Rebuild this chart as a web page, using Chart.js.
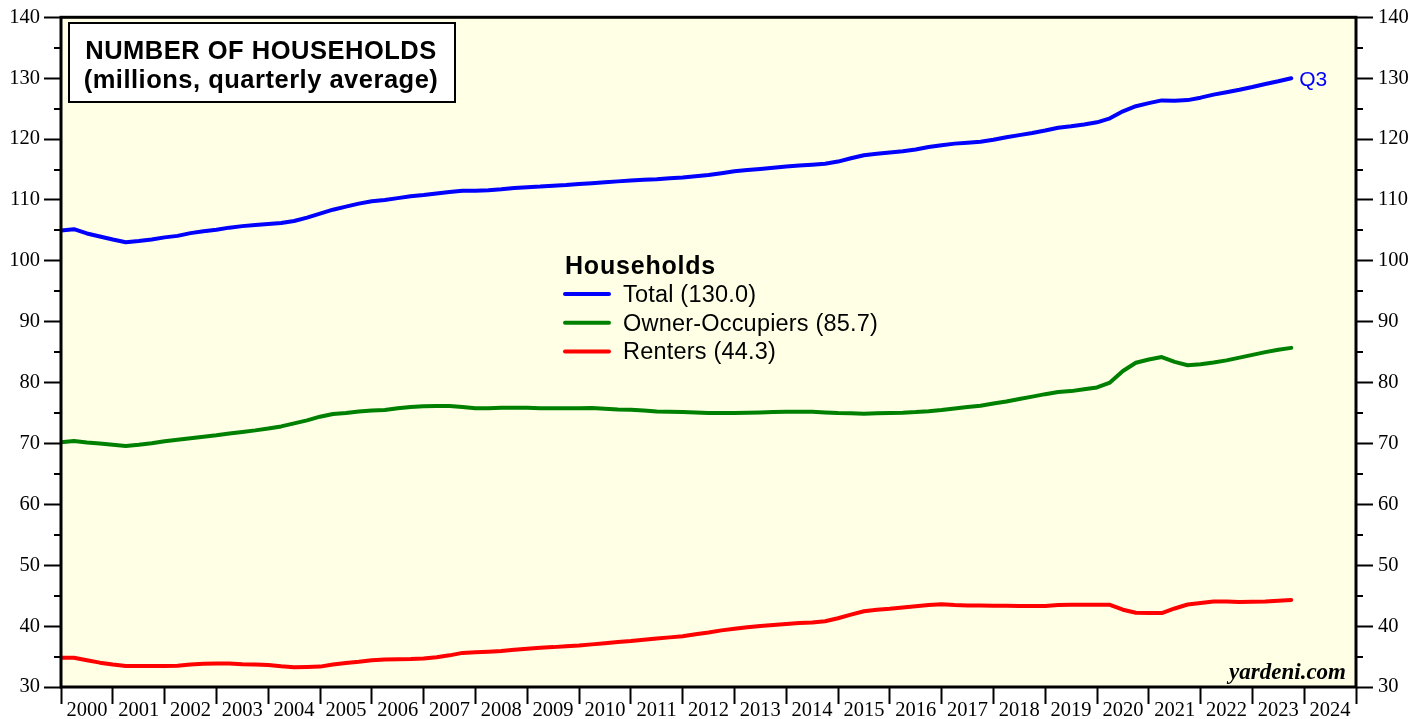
<!DOCTYPE html>
<html>
<head>
<meta charset="utf-8">
<script src="https://cdn.jsdelivr.net/npm/chart.js@4.4.1/dist/chart.umd.min.js"></script>
<style>
html,body{margin:0;padding:0;background:#fff;}
canvas{display:block;}
</style>
</head>
<body>
<canvas id="c" width="1427" height="719"></canvas>
<script>
// Quarterly data, 2000 Q1 .. 2023 Q3 (millions)
const startYear = 2000;
const quarterStep = 0.25;

const total = [
  105.0, 105.2, 104.5, 104.0,
  103.5, 103.05, 103.25, 103.5,
  103.85, 104.1, 104.55, 104.85,
  105.1, 105.45, 105.7, 105.9,
  106.05, 106.2, 106.55, 107.1,
  107.75, 108.4, 108.9, 109.4,
  109.8, 110.0, 110.3, 110.6,
  110.8, 111.05, 111.3, 111.5,
  111.5, 111.6, 111.75, 111.95,
  112.1, 112.2, 112.35, 112.45,
  112.6, 112.75, 112.9, 113.05,
  113.2, 113.3, 113.4, 113.55,
  113.7, 113.9, 114.1, 114.4,
  114.7, 114.9, 115.1, 115.3,
  115.5, 115.65, 115.8, 115.95,
  116.3, 116.85, 117.35, 117.6,
  117.8, 118.0, 118.3, 118.7,
  119.0, 119.25, 119.4, 119.55,
  119.9, 120.3, 120.65, 121.0,
  121.4, 121.85, 122.1, 122.4,
  122.75, 123.4, 124.55, 125.4,
  125.9, 126.35, 126.3, 126.4,
  126.8, 127.3, 127.7, 128.1,
  128.55, 129.05, 129.5, 130.0
];

const owners = [
  70.2, 70.4, 70.15, 70.0,
  69.8, 69.6, 69.8, 70.05,
  70.35, 70.6, 70.85, 71.1,
  71.35, 71.65, 71.9, 72.15,
  72.45, 72.8, 73.3, 73.8,
  74.4, 74.85, 75.0, 75.25,
  75.4, 75.5, 75.8, 76.0,
  76.1, 76.15, 76.15, 76.0,
  75.8, 75.8, 75.85, 75.88,
  75.85, 75.8, 75.8, 75.8,
  75.8, 75.82, 75.7, 75.6,
  75.55, 75.4, 75.25, 75.2,
  75.15, 75.08, 75.02, 75.0,
  75.0, 75.05, 75.1, 75.15,
  75.2, 75.22, 75.2, 75.1,
  75.0, 74.95, 74.9, 74.95,
  75.0, 75.05, 75.15, 75.3,
  75.5, 75.75, 76.0, 76.2,
  76.55, 76.9, 77.3, 77.7,
  78.1, 78.45, 78.6, 78.9,
  79.2, 80.0, 81.9, 83.25,
  83.8, 84.2, 83.4, 82.85,
  83.0, 83.3, 83.65, 84.1,
  84.55, 85.0, 85.4, 85.7
];

const renters = [
  34.8, 34.8, 34.4, 34.0,
  33.7, 33.45, 33.45, 33.45,
  33.45, 33.5, 33.7, 33.8,
  33.85, 33.85, 33.75, 33.7,
  33.6, 33.4, 33.25, 33.3,
  33.35, 33.7, 33.95, 34.15,
  34.4, 34.5, 34.55, 34.6,
  34.7, 34.9, 35.2, 35.6,
  35.7, 35.8, 35.9, 36.1,
  36.3, 36.45, 36.55, 36.7,
  36.8, 37.0, 37.2, 37.4,
  37.55, 37.75, 37.95, 38.15,
  38.35, 38.65, 38.95, 39.3,
  39.55, 39.8, 40.03, 40.2,
  40.35, 40.5, 40.6, 40.8,
  41.3, 41.9, 42.45, 42.7,
  42.85, 43.05, 43.25, 43.45,
  43.58, 43.45, 43.4, 43.38,
  43.35, 43.33, 43.3, 43.3,
  43.3, 43.45, 43.52, 43.53,
  43.5, 43.5, 42.7, 42.2,
  42.15, 42.15, 42.9, 43.55,
  43.8, 44.05, 44.05, 43.95,
  44.0, 44.03, 44.15, 44.3
];

const yTicks = [30, 40, 50, 60, 70, 80, 90, 100, 110, 120, 130, 140];
const yMinorTicks = [35, 45, 55, 65, 75, 85, 95, 105, 115, 125, 135];
const yearTicks = [2000, 2001, 2002, 2003, 2004, 2005, 2006, 2007, 2008, 2009, 2010, 2011, 2012,
  2013, 2014, 2015, 2016, 2017, 2018, 2019, 2020, 2021, 2022, 2023, 2024, 2025];

const seriesNames = ['Total', 'Owner-Occupiers', 'Renters'];
const seriesColors = ['#0000ff', '#008000', '#ff0000'];
const titleLines = ['NUMBER OF HOUSEHOLDS', '(millions, quarterly average)'];
const legendTitle = 'Households';
const lastLabel = 'Q3';
const sourceText = 'yardeni.com';

function toPoints(arr) {
  return arr.map((v, i) => ({ x: startYear + i * quarterStep, y: v }));
}

const seriesData = [total, owners, renters];

const datasets = seriesData.map((arr, i) => ({
  label: seriesNames[i],
  data: toPoints(arr),
  borderColor: seriesColors[i],
  backgroundColor: seriesColors[i],
  borderWidth: 4,
  pointRadius: 0,
  tension: 0,
  borderJoinStyle: 'round',
  borderCapStyle: 'round',
  yAxisID: 'y'
}));

const serif = "'Liberation Serif', 'Times New Roman', serif";
const sans = "'Liberation Sans', Arial, sans-serif";

const deco = {
  id: 'deco',
  beforeDraw(chart) {
    const { ctx, chartArea: a } = chart;
    ctx.save();
    ctx.fillStyle = '#ffffff';
    ctx.fillRect(0, 0, chart.width, chart.height);
    ctx.fillStyle = 'rgb(255,255,229)';
    ctx.fillRect(a.left, a.top, a.right - a.left, a.bottom - a.top);
    ctx.restore();
  },
  afterDraw(chart) {
    const { ctx, chartArea: a } = chart;
    const ys = chart.scales.y;
    const xs = chart.scales.x;
    ctx.save();
    // frame
    ctx.strokeStyle = '#000';
    ctx.lineWidth = 3;
    ctx.strokeRect(a.left, a.top, a.right - a.left, a.bottom - a.top);
    // minor y ticks
    ctx.lineWidth = 2;
    ctx.beginPath();
    yMinorTicks.forEach(v => {
      const py = Math.round(ys.getPixelForValue(v));
      ctx.moveTo(a.left - 7, py); ctx.lineTo(a.left, py);
      ctx.moveTo(a.right, py); ctx.lineTo(a.right + 7, py);
    });
    ctx.stroke();

    // title box
    ctx.fillStyle = '#fff';
    ctx.fillRect(68, 22, 387, 80);
    ctx.lineWidth = 2;
    ctx.strokeStyle = '#000';
    ctx.strokeRect(69, 23, 386, 79);
    ctx.fillStyle = '#000';
    ctx.font = 'bold 25.5px ' + sans;
    ctx.textAlign = 'center';
    ctx.textBaseline = 'alphabetic';
    try { ctx.letterSpacing = '0.5px'; } catch (e) {}
    ctx.fillText(titleLines[0], 261, 59);
    ctx.fillText(titleLines[1], 261, 88);

    // legend
    ctx.textAlign = 'left';
    ctx.font = 'bold 25px ' + sans;
    try { ctx.letterSpacing = '0.8px'; } catch (e) {}
    ctx.fillText(legendTitle, 565, 274);
    try { ctx.letterSpacing = '0.2px'; } catch (e) {}
    ctx.font = '23.5px ' + sans;
    const labels = seriesNames.map((n, i) => n + ' (' + seriesData[i][seriesData[i].length - 1].toFixed(1) + ')');
    labels.forEach((t, i) => {
      const ly = 294 + i * 28.7;
      ctx.strokeStyle = seriesColors[i];
      ctx.lineWidth = 4;
      ctx.lineCap = 'round';
      ctx.beginPath();
      ctx.moveTo(565, ly); ctx.lineTo(609, ly);
      ctx.stroke();
      ctx.fillStyle = '#000';
      ctx.fillText(t, 623, ly + 8);
    });
    try { ctx.letterSpacing = '0px'; } catch (e) {}

    // Q3 label at end of Total line
    const li = total.length - 1;
    const px = xs.getPixelForValue(startYear + li * quarterStep);
    const py = ys.getPixelForValue(total[li]);
    ctx.fillStyle = seriesColors[0];
    ctx.font = '21px ' + sans;
    ctx.fillText(lastLabel, px + 8, py + 7.5);

    // source
    ctx.fillStyle = '#000';
    ctx.font = 'italic bold 23px ' + serif;
    ctx.textAlign = 'right';
    ctx.fillText(sourceText, a.right - 10, 679);
    ctx.restore();
  }
};

const yCommon = {
  type: 'linear',
  min: 30,
  max: 140,
  afterBuildTicks: (s) => { s.ticks = yTicks.map(v => ({ value: v })); },
  grid: { drawOnChartArea: false, drawTicks: true, tickLength: 17, tickWidth: 2, tickColor: '#000', color: '#000' },
  border: { display: false },
  ticks: { color: '#000', font: { family: serif, size: 20.5 }, padding: 4 }
};

new Chart(document.getElementById('c'), {
  type: 'line',
  data: { datasets },
  plugins: [deco],
  options: {
    responsive: false,
    animation: false,
    layout: { padding: { top: 15, left: 0, right: 0, bottom: 0 } },
    plugins: { legend: { display: false }, tooltip: { enabled: false }, title: { display: false } },
    scales: {
      x: {
        type: 'linear',
        min: 2000,
        max: 2025,
        afterBuildTicks: (s) => {
          const t = [];
          yearTicks.forEach((yv, i) => {
            t.push({ value: yv });
            if (i < yearTicks.length - 1) t.push({ value: yv + 0.5 });
          });
          s.ticks = t;
        },
        afterFit: (s) => { s.height = 32; },
        grid: {
          drawOnChartArea: false, drawTicks: true, tickLength: 17, tickWidth: 2,
          tickColor: (c) => (c.tick && Number.isInteger(c.tick.value)) ? '#000' : 'rgba(0,0,0,0)'
        },
        border: { display: false },
        ticks: {
          autoSkip: false, maxRotation: 0, minRotation: 0, padding: -6, color: '#000',
          font: { family: serif, size: 20.5 },
          callback: (v) => Number.isInteger(v) ? '' : String(Math.floor(v))
        }
      },
      y: Object.assign({}, yCommon, { position: 'left', afterFit: (s) => { s.width = 61; } }),
      y2: Object.assign({}, yCommon, { position: 'right', afterFit: (s) => { s.width = 71; }, ticks: Object.assign({}, yCommon.ticks, { padding: 5 }) })
    }
  }
});
</script>
</body>
</html>
